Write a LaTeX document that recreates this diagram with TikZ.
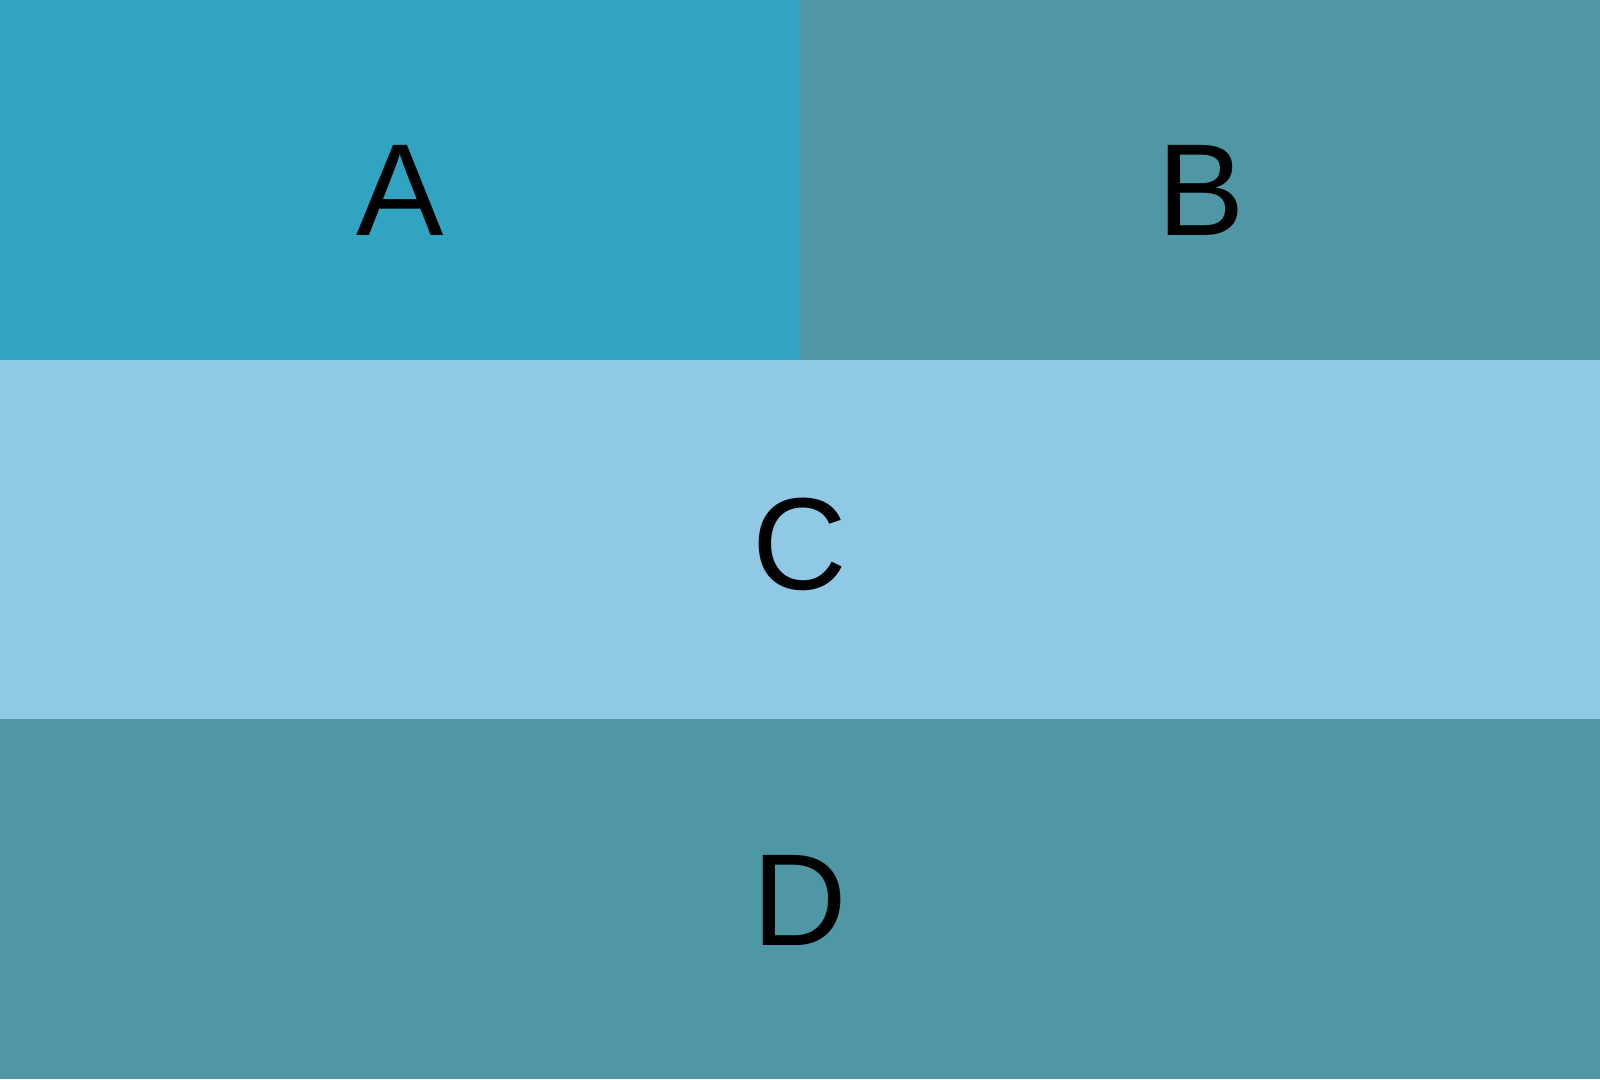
\documentclass[tikz,border=0pt]{standalone}
\usepackage{fontspec}
\setmainfont{Liberation Sans}
\definecolor{cA}{HTML}{31A4C1}
\definecolor{cB}{HTML}{4F97A4}
\definecolor{cC}{HTML}{8FC9E5}
\begin{document}
\begin{tikzpicture}[x=1pt,y=-1pt,
  lbl/.style={anchor=base,inner sep=0pt,font=\fontsize{131}{133}\selectfont,text=black}]
\useasboundingbox (0,0) rectangle (1600,1079);
\fill[cA] (0,0) rectangle (800,359.7);
\fill[cB] (800,0) rectangle (1600,359.7);
\fill[cC] (0,359.7) rectangle (1600,719.3);
\fill[cB] (0,719.3) rectangle (1600,1079);
\node[lbl] (a) at (400,235.5) {A};
\node[lbl] (b) at (1201,235.5) {B};
\node[lbl] (c) at (800,589.5) {C};
\node[lbl] (d) at (800,945.5) {D};
\end{tikzpicture}
\end{document}
